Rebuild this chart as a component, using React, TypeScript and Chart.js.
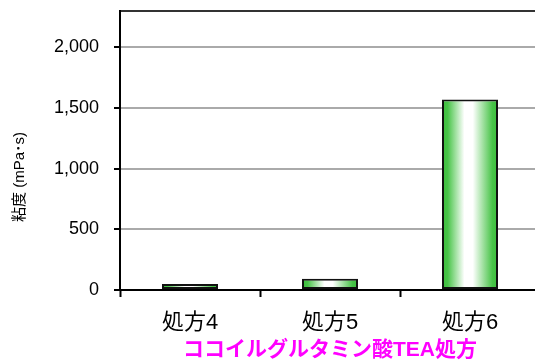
import React, { useEffect, useRef } from "react";
import { Chart, registerables } from "chart.js";

Chart.register(...registerables);

const categories = ["処方4", "処方5", "処方6"];
const viscosity = [50, 92, 1570];
const yTicks = [0, 500, 1000, 1500, 2000];
const yMax = 2300;
const xTitle = "ココイルグルタミン酸TEA処方";
const yTitle = "粘度 (mPa･s)";

const FONT = "'Liberation Sans', Arial, 'Noto Sans CJK JP', sans-serif";

export default function App() {
  const ref = useRef<HTMLCanvasElement | null>(null);

  useEffect(() => {
    if (!ref.current) return;
    const barPct = 0.4;

    const yTitlePlugin = {
      id: "yTitlePlugin",
      afterDraw(chart: any) {
        const ctx = chart.ctx;
        ctx.save();
        ctx.translate(20, 177);
        ctx.rotate(-Math.PI / 2);
        ctx.font = `15px ${FONT}`;
        ctx.fillStyle = "#000";
        ctx.textAlign = "center";
        ctx.textBaseline = "middle";
        ctx.fillText(yTitle, 0, 0);
        ctx.restore();
      },
    };

    const chart = new Chart(ref.current, {
      type: "bar",
      data: {
        labels: categories,
        datasets: [
          {
            data: viscosity,
            backgroundColor: (c: any) => {
              const chartObj = c.chart;
              const xs = chartObj.scales && chartObj.scales.x;
              if (!xs || c.dataIndex === undefined) return "#48c248";
              const center = xs.getPixelForValue(c.dataIndex);
              const hw = (xs.width / categories.length) * barPct / 2;
              if (!isFinite(center) || !isFinite(hw) || hw <= 0) return "#48c248";
              const g = chartObj.ctx.createLinearGradient(center - hw, 0, center + hw, 0);
              g.addColorStop(0, "#3cbf3c");
              g.addColorStop(0.1, "#48c448");
              g.addColorStop(0.4, "#ffffff");
              g.addColorStop(0.55, "#ffffff");
              g.addColorStop(0.9, "#48c448");
              g.addColorStop(1, "#3cbf3c");
              return g;
            },
            borderColor: "#111",
            borderWidth: 2,
            borderSkipped: false,
            barPercentage: barPct,
            categoryPercentage: 1,
          },
        ],
      },
      options: {
        animation: false,
        responsive: false,
        maintainAspectRatio: false,
        layout: { padding: { top: 11, right: 5, left: 0, bottom: 0 } },
        plugins: { legend: { display: false }, tooltip: { enabled: false } },
        scales: {
          x: {
            offset: true,
            grid: {
              offset: true,
              drawOnChartArea: false,
              drawTicks: true,
              tickLength: 7,
              tickColor: "#000",
              tickWidth: 2,
            },
            border: { color: "#000", width: 2 },
            ticks: {
              color: "#000",
              font: { family: FONT, size: 22 },
              padding: 13,
              maxRotation: 0,
            },
            title: {
              display: true,
              text: xTitle,
              color: "#ff00ff",
              font: { family: FONT, size: 21, weight: "bold" },
              padding: { top: 0, bottom: -3 },
            },
            afterFit: (s: any) => {
              s.height = 70;
              s.paddingLeft = 0;
              s.paddingRight = 0;
            },
          },
          y: {
            min: 0,
            max: yMax,
            afterBuildTicks: (s: any) => {
              s.ticks = [...yTicks, yMax].map((v) => ({ value: v }));
            },
            grid: {
              color: (c: any) => (c.tick && c.tick.value === yMax ? "#333" : "#aaa"),
              lineWidth: 2,
              tickLength: 6,
              tickColor: (c: any) => (c.tick && c.tick.value === yMax ? "rgba(0,0,0,0)" : "#000"),
              tickWidth: 2,
            },
            border: { color: "#000", width: 2 },
            ticks: {
              color: "#000",
              font: { family: FONT, size: 18 },
              padding: 15,
              callback: (v: any) => (v === yMax ? "" : Number(v).toLocaleString("en-US")),
            },
            afterFit: (s: any) => {
              s.width = 120;
              s.paddingTop = 0;
              s.paddingBottom = 0;
            },
          },
        },
      },
      plugins: [yTitlePlugin],
    });
    return () => chart.destroy();
  }, []);

  return (
    <div style={{ position: "fixed", left: 0, top: 0, width: 535, height: 360, overflow: "hidden", background: "#fff" }}>
      <canvas ref={ref} width={545} height={360} style={{ display: "block", width: 545, height: 360 }} />
    </div>
  );
}
